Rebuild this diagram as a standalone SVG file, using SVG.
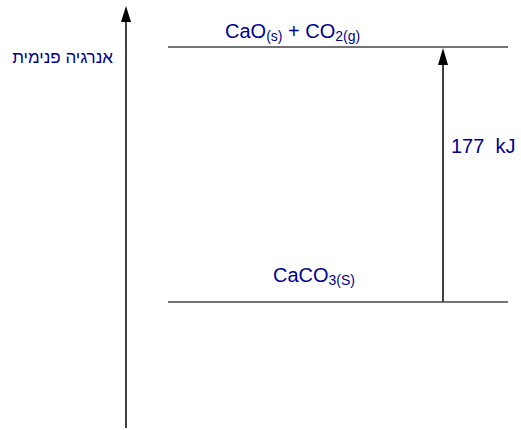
<svg xmlns="http://www.w3.org/2000/svg" width="521" height="430" viewBox="0 0 521 430">
<style>
.t{font-family:"Liberation Sans",Arial,sans-serif;fill:#000090;font-size:20px}
.sub{font-size:14px}
.lvl{stroke:#444;stroke-width:1.3}
.ax{stroke:#000;stroke-width:1.5}
</style>
<rect width="521" height="430" fill="#fff"/>
<g id="connectors">
<line class="ax" x1="126" y1="428" x2="126" y2="22"/>
<path d="M121,22 L126,6 L131,22 Z" fill="#000"/>
<line class="ax" x1="443" y1="302" x2="443" y2="64"/>
<path d="M438,65 L443,48 L448,65 Z" fill="#000"/>
</g>
<g id="level-top">
<line class="lvl" x1="168" y1="47" x2="508" y2="47"/>
<text class="t" x="225" y="38">CaO<tspan class="sub" dy="3">(s)</tspan><tspan dy="-3"> + CO</tspan><tspan class="sub" dy="3">2(g)</tspan></text>
</g>
<g id="level-bottom">
<line class="lvl" x1="168" y1="302" x2="508" y2="302"/>
<text class="t" x="273" y="282">CaCO<tspan class="sub" dy="3">3(S)</tspan></text>
</g>
<g id="energy-label">
<text class="t" x="451" y="153" xml:space="preserve">177  kJ</text>
</g>
<g id="axis-label">
<text class="t" x="113" y="63" text-anchor="end" style="font-size:17px">אנרגיה פנימית</text>
</g>
</svg>
